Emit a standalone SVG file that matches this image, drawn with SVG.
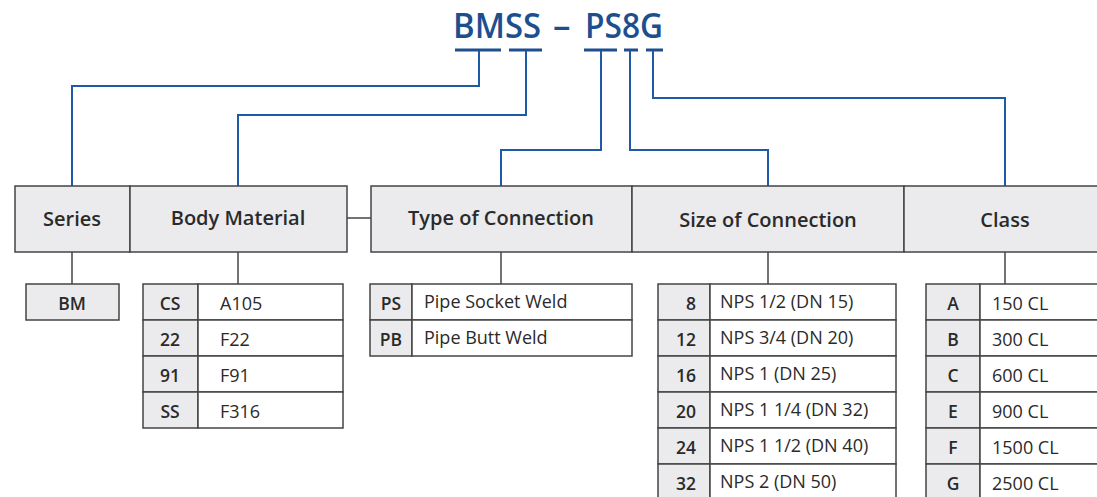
<svg xmlns="http://www.w3.org/2000/svg" width="1097" height="497" viewBox="0 0 1097 497">
<style>
.title{font-family:"Open Sans","Noto Sans",sans-serif;font-size:35px;fill:#1d4f8f;font-weight:600}
.ul{stroke:#1d4f8f;stroke-width:3;fill:none}
.blue{stroke:#1f5aa6;stroke-width:2;fill:none}
.gl{stroke:#444;stroke-width:1.5;fill:none}
.hd{fill:#ebebed;stroke:#444;stroke-width:1.5}
.cell{fill:#ebebed;stroke:#444;stroke-width:1.5}
.wc{fill:#fff;stroke:#444;stroke-width:1.5}
.ht{font-family:"Open Sans","Noto Sans",sans-serif;font-size:20px;font-weight:600;fill:#2a2a2a;text-anchor:middle}
.ct{font-family:"Open Sans","Noto Sans",sans-serif;font-size:17.5px;font-weight:600;fill:#2a2a2a;text-anchor:middle}
.cr{font-family:"Open Sans","Noto Sans",sans-serif;font-size:17.5px;font-weight:600;fill:#2a2a2a;text-anchor:end}
.vt{font-family:"Open Sans","Noto Sans",sans-serif;font-size:18px;fill:#2a2a2a}
</style>
<g id="title">
<text class="title" x="453" y="38" textLength="88" lengthAdjust="spacingAndGlyphs">BMSS</text>
<text class="title" x="553" y="38" font-weight="400">–</text>
<text class="title" x="585" y="38" textLength="78" lengthAdjust="spacingAndGlyphs">PS8G</text>
<line class="ul" x1="455" y1="50" x2="501" y2="50"/>
<line class="ul" x1="509" y1="50" x2="542" y2="50"/>
<line class="ul" x1="584" y1="50" x2="617" y2="50"/>
<line class="ul" x1="624" y1="50" x2="638" y2="50"/>
<line class="ul" x1="646" y1="50" x2="663" y2="50"/>
</g>
<g id="connectors">
<polyline class="blue" points="479,51 479,86 72,86 72,186"/>
<polyline class="blue" points="526,51 526,115 238,115 238,186"/>
<polyline class="blue" points="601,51 601,150 501,150 501,186"/>
<polyline class="blue" points="630,51 630,150 768,150 768,186"/>
<polyline class="blue" points="653,51 653,98 1005,98 1005,186"/>
<line class="gl" x1="347" y1="218" x2="371" y2="218"/>
<line class="gl" x1="72" y1="252" x2="72" y2="284"/>
<line class="gl" x1="238" y1="252" x2="238" y2="284"/>
<line class="gl" x1="501" y1="252" x2="501" y2="284"/>
<line class="gl" x1="768" y1="252" x2="768" y2="284"/>
<line class="gl" x1="1005" y1="252" x2="1005" y2="284"/>
</g>
<g id="header-series">
<rect class="hd" x="15" y="186" width="115" height="66"/>
<text class="ht" x="72" y="226">Series</text>
</g>
<g id="header-body">
<rect class="hd" x="130" y="186" width="217" height="66"/>
<text class="ht" x="238" y="225">Body Material</text>
</g>
<g id="header-type">
<rect class="hd" x="371" y="186" width="261" height="66"/>
<text class="ht" x="501" y="225">Type of Connection</text>
</g>
<g id="header-size">
<rect class="hd" x="632" y="186" width="272" height="66"/>
<text class="ht" x="768" y="227">Size of Connection</text>
</g>
<g id="header-class">
<rect class="hd" x="904" y="186" width="200" height="66"/>
<text class="ht" x="1005" y="227">Class</text>
</g>
<g id="series-table">
<rect class="cell" x="26" y="284" width="93" height="36"/>
<text class="ct" x="72" y="310">BM</text>
</g>
<g id="body-table">
<rect class="cell" x="143" y="284" width="55" height="36"/><rect class="wc" x="198" y="284" width="145" height="36"/>
<rect class="cell" x="143" y="320" width="55" height="36"/><rect class="wc" x="198" y="320" width="145" height="36"/>
<rect class="cell" x="143" y="356" width="55" height="36"/><rect class="wc" x="198" y="356" width="145" height="36"/>
<rect class="cell" x="143" y="392" width="55" height="36"/><rect class="wc" x="198" y="392" width="145" height="36"/>
<text class="ct" x="170" y="310">CS</text><text class="vt" x="220" y="310">A105</text>
<text class="ct" x="170" y="346">22</text><text class="vt" x="220" y="346">F22</text>
<text class="ct" x="170" y="382">91</text><text class="vt" x="220" y="382">F91</text>
<text class="ct" x="170" y="418">SS</text><text class="vt" x="220" y="418">F316</text>
</g>
<g id="type-table">
<rect class="cell" x="370" y="284" width="42" height="36"/><rect class="wc" x="412" y="284" width="220" height="36"/>
<rect class="cell" x="370" y="320" width="42" height="36"/><rect class="wc" x="412" y="320" width="220" height="36"/>
<text class="ct" x="391" y="310">PS</text><text class="vt" x="424" y="308">Pipe Socket Weld</text>
<text class="ct" x="391" y="346">PB</text><text class="vt" x="424" y="344">Pipe Butt Weld</text>
</g>
<g id="size-table">
<rect class="cell" x="658" y="284" width="52" height="36"/><rect class="wc" x="710" y="284" width="186" height="36"/>
<rect class="cell" x="658" y="320" width="52" height="36"/><rect class="wc" x="710" y="320" width="186" height="36"/>
<rect class="cell" x="658" y="356" width="52" height="36"/><rect class="wc" x="710" y="356" width="186" height="36"/>
<rect class="cell" x="658" y="392" width="52" height="36"/><rect class="wc" x="710" y="392" width="186" height="36"/>
<rect class="cell" x="658" y="428" width="52" height="36"/><rect class="wc" x="710" y="428" width="186" height="36"/>
<rect class="cell" x="658" y="464" width="52" height="40"/><rect class="wc" x="710" y="464" width="186" height="40"/>
<text class="cr" x="696" y="310">8</text><text class="vt" x="720" y="308">NPS 1/2 (DN 15)</text>
<text class="cr" x="696" y="346">12</text><text class="vt" x="720" y="344">NPS 3/4 (DN 20)</text>
<text class="cr" x="696" y="382">16</text><text class="vt" x="720" y="380">NPS 1 (DN 25)</text>
<text class="cr" x="696" y="418">20</text><text class="vt" x="720" y="416">NPS 1 1/4 (DN 32)</text>
<text class="cr" x="696" y="454">24</text><text class="vt" x="720" y="452">NPS 1 1/2 (DN 40)</text>
<text class="cr" x="696" y="490">32</text><text class="vt" x="720" y="488">NPS 2 (DN 50)</text>
</g>
<g id="class-table">
<rect class="cell" x="926" y="284" width="54" height="36"/><rect class="wc" x="980" y="284" width="130" height="36"/>
<rect class="cell" x="926" y="320" width="54" height="36"/><rect class="wc" x="980" y="320" width="130" height="36"/>
<rect class="cell" x="926" y="356" width="54" height="36"/><rect class="wc" x="980" y="356" width="130" height="36"/>
<rect class="cell" x="926" y="392" width="54" height="36"/><rect class="wc" x="980" y="392" width="130" height="36"/>
<rect class="cell" x="926" y="428" width="54" height="36"/><rect class="wc" x="980" y="428" width="130" height="36"/>
<rect class="cell" x="926" y="464" width="54" height="40"/><rect class="wc" x="980" y="464" width="130" height="40"/>
<text class="ct" x="953" y="310">A</text><text class="vt" x="992" y="310">150 CL</text>
<text class="ct" x="953" y="346">B</text><text class="vt" x="992" y="346">300 CL</text>
<text class="ct" x="953" y="382">C</text><text class="vt" x="992" y="382">600 CL</text>
<text class="ct" x="953" y="418">E</text><text class="vt" x="992" y="418">900 CL</text>
<text class="ct" x="953" y="454">F</text><text class="vt" x="992" y="454">1500 CL</text>
<text class="ct" x="953" y="490">G</text><text class="vt" x="992" y="490">2500 CL</text>
</g>
</svg>
